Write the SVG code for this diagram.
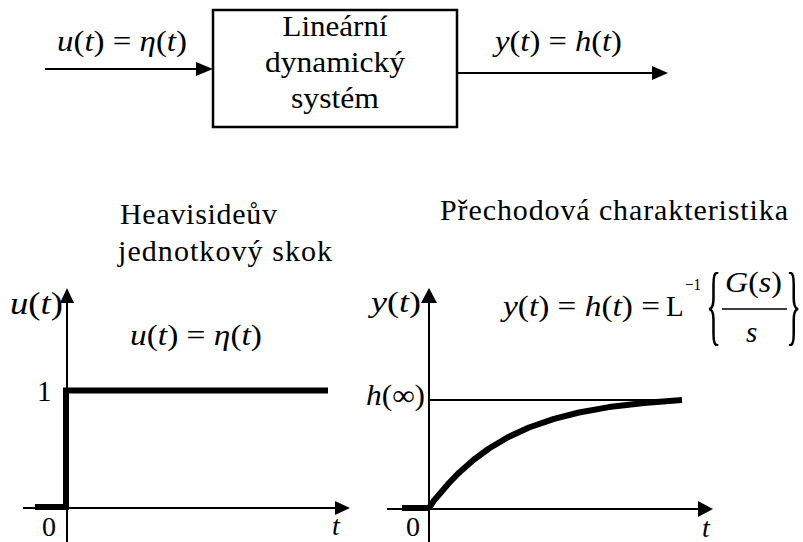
<svg xmlns="http://www.w3.org/2000/svg" width="803" height="542" viewBox="0 0 803 542" font-family="'Liberation Serif', 'Times New Roman', serif">
<style>
text{font-family:'Liberation Serif','Times New Roman',serif;fill:#000}
.i{font-style:italic}
.ln{stroke:#000;stroke-width:2;fill:none}
.thick{stroke:#000;stroke-width:6;fill:none}
.ah{fill:#000;stroke:none}
</style>
<rect width="803" height="542" fill="#fff"/>

<!-- Top block diagram -->
<g id="system">
  <rect x="213" y="10" width="244" height="117" fill="#fff" stroke="#000" stroke-width="2.5"/>
  <text x="335" y="36" font-size="30" text-anchor="middle" textLength="105" lengthAdjust="spacingAndGlyphs">Lineární</text>
  <text x="335" y="72" font-size="30" text-anchor="middle" textLength="140" lengthAdjust="spacingAndGlyphs">dynamický</text>
  <text x="335" y="108" font-size="30" text-anchor="middle" textLength="88" lengthAdjust="spacingAndGlyphs">systém</text>
</g>
<g id="input-label">
  <text x="57" y="51" font-size="29" textLength="130" lengthAdjust="spacingAndGlyphs"><tspan class="i">u</tspan>(<tspan class="i">t</tspan>) = <tspan class="i">η</tspan>(<tspan class="i">t</tspan>)</text>
</g>
<g id="output-label">
  <text x="495" y="51" font-size="29" textLength="127" lengthAdjust="spacingAndGlyphs"><tspan class="i">y</tspan>(<tspan class="i">t</tspan>) = <tspan class="i">h</tspan>(<tspan class="i">t</tspan>)</text>
</g>
<g id="connectors">
  <line class="ln" x1="45" y1="69" x2="197" y2="69"/>
  <polygon class="ah" points="196,62 213,69 196,76"/>
  <line class="ln" x1="457" y1="73" x2="654" y2="73"/>
  <polygon class="ah" points="652,66 668,73 652,80"/>
</g>

<!-- Left chart -->
<g id="step-chart">
  <text x="120" y="224" font-size="30" textLength="157" lengthAdjust="spacing">Heavisideův</text>
  <text x="118" y="261" font-size="30" textLength="214" lengthAdjust="spacing">jednotkový skok</text>
  <line class="ln" x1="67" y1="300" x2="67" y2="542"/>
  <polygon class="ah" points="60,303 67,288 74,303"/>
  <line class="ln" x1="23" y1="508" x2="337" y2="508"/>
  <polygon class="ah" points="335,501 350,508 335,515"/>
  <path class="thick" d="M35,507 H66 V390.5 H328" stroke-linejoin="miter"/>
  <text x="10" y="314" font-size="32" textLength="53" lengthAdjust="spacingAndGlyphs"><tspan class="i">u</tspan>(<tspan class="i">t</tspan>)</text>
  <text x="130" y="345" font-size="29" textLength="132" lengthAdjust="spacingAndGlyphs"><tspan class="i">u</tspan>(<tspan class="i">t</tspan>) = <tspan class="i">η</tspan>(<tspan class="i">t</tspan>)</text>
  <text x="37" y="401" font-size="29">1</text>
  <text x="42" y="536" font-size="28">0</text>
  <text x="332" y="535" font-size="28" class="i">t</text>
</g>

<!-- Right chart -->
<g id="response-chart">
  <text x="440" y="220" font-size="30" textLength="348" lengthAdjust="spacing">Přechodová charakteristika</text>
  <line class="ln" x1="429" y1="300" x2="429" y2="542"/>
  <polygon class="ah" points="421,303 429,288 437,303"/>
  <line class="ln" x1="387" y1="509" x2="700" y2="509"/>
  <polygon class="ah" points="698,501 713,509 698,517"/>
  <line class="ln" x1="429" y1="400" x2="682" y2="400"/>
  <line class="thick" x1="402" y1="508" x2="429" y2="508"/>
  <polyline class="thick" stroke-linejoin="round" points="429,508 434,500.5 439,494.7 449,483 459,472.7 474,459.5 489,448.5 509,436.7 529,427.5 554,418.8 579,412.5 609,407.1 644,402.9 682,400"/>
  <text x="371" y="312" font-size="30" textLength="50" lengthAdjust="spacingAndGlyphs"><tspan class="i">y</tspan>(<tspan class="i">t</tspan>)</text>
  <text x="366" y="405" font-size="29" textLength="59" lengthAdjust="spacingAndGlyphs"><tspan class="i">h</tspan>(∞)</text>
  <text x="406" y="536" font-size="28">0</text>
  <text x="702" y="537" font-size="28" class="i">t</text>
  <text x="503" y="316" font-size="29" textLength="157" lengthAdjust="spacingAndGlyphs"><tspan class="i">y</tspan>(<tspan class="i">t</tspan>) = <tspan class="i">h</tspan>(<tspan class="i">t</tspan>) =</text>
  <text x="666" y="316" font-size="29">L</text>
  <text x="685" y="290" font-size="17" textLength="16" lengthAdjust="spacingAndGlyphs">−1</text>
  <text transform="translate(706,334) scale(0.36,1)" font-size="88">{</text>
  <text x="725" y="292" font-size="29" textLength="57" lengthAdjust="spacingAndGlyphs"><tspan class="i">G</tspan>(<tspan class="i">s</tspan>)</text>
  <line x1="722" y1="309" x2="787" y2="309" stroke="#000" stroke-width="1.5"/>
  <text x="746" y="342" font-size="29" class="i">s</text>
  <text transform="translate(786,334) scale(0.36,1)" font-size="88">}</text>
</g>
</svg>
